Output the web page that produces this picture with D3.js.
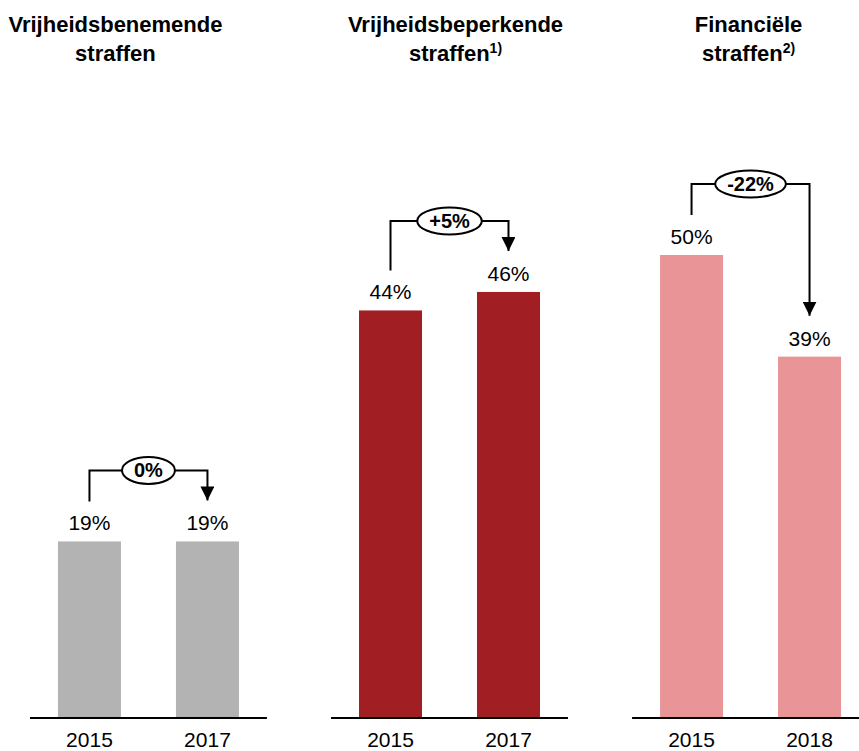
<!DOCTYPE html>
<html>
<head>
<meta charset="utf-8">
<script src="https://cdn.jsdelivr.net/npm/d3@7"></script>
<style>
  body { margin: 0; background: #fff; }
  svg { display: block; font-family: Arial, "Liberation Sans", sans-serif; }
</style>
</head>
<body>
<svg id="chart" width="859" height="751"></svg>
<script>
// data
const titleLine1 = ['Vrijheidsbenemende', 'Vrijheidsbeperkende', 'Financiële'];
const titleLine2 = ['straffen', 'straffen', 'straffen'];
const footnotes = ['', '1)', '2)'];
const years = [['2015', '2017'], ['2015', '2017'], ['2015', '2018']];
const values = [[19, 19], [44, 46], [50, 39]];
const changes = ['0%', '+5%', '-22%'];
const colors = ['#b3b3b3', '#a11f22', '#e99597'];

const baseY = 717;
const svg = d3.select('#chart');

// panels
const panelX = d3.scaleBand()
    .domain(d3.range(3))
    .range([30, 869])
    .paddingInner(0.213)
    .paddingOuter(0);

const barX = d3.scaleBand()
    .domain([0, 1])
    .range([0, panelX.bandwidth()])
    .paddingInner(0.466)
    .paddingOuter(0.237);

const y = d3.scaleLinear()
    .domain([0, 50])
    .range([baseY, baseY - 462]);

const titleShift = [-33, 6, -2];

svg.append('defs').append('marker')
    .attr('id', 'arrow')
    .attr('viewBox', '0 0 10 10')
    .attr('refX', 10)
    .attr('refY', 5)
    .attr('markerWidth', 7)
    .attr('markerHeight', 7)
    .attr('markerUnits', 'strokeWidth')
    .attr('orient', 'auto')
    .append('path')
    .attr('d', 'M0,0 L10,5 L0,10 Z')
    .attr('fill', '#000');

d3.range(3).forEach(i => {
    const g = svg.append('g').attr('transform', `translate(${panelX(i)},0)`);
    const pw = panelX.bandwidth();
    const cx = d => barX(d) + barX.bandwidth() / 2;

    // title
    const tx = pw / 2 + titleShift[i];
    const t = g.append('text')
        .attr('text-anchor', 'middle')
        .attr('font-size', 22)
        .attr('font-weight', 'bold')
        .attr('fill', '#000');
    t.append('tspan').attr('x', tx).attr('y', 32).text(titleLine1[i]);
    t.append('tspan').attr('x', tx).attr('y', 61).text(titleLine2[i]);
    if (footnotes[i]) {
        t.append('tspan').attr('dy', -8).attr('font-size', 14).text(footnotes[i]);
    }

    // bars
    g.selectAll('.bar')
        .data(values[i])
        .enter()
        .append('rect')
        .attr('class', 'bar')
        .attr('x', (d, j) => barX(j))
        .attr('y', d => y(d))
        .attr('width', barX.bandwidth())
        .attr('height', d => baseY - y(d))
        .attr('fill', colors[i]);

    // value labels
    g.selectAll('.val')
        .data(values[i])
        .enter()
        .append('text')
        .attr('class', 'val')
        .attr('x', (d, j) => cx(j))
        .attr('y', d => y(d) - 11)
        .attr('text-anchor', 'middle')
        .attr('font-size', 21)
        .attr('fill', '#000')
        .text(d => d + '%');

    // baseline
    g.append('line')
        .attr('x1', 0).attr('x2', pw)
        .attr('y1', baseY + 1).attr('y2', baseY + 1)
        .attr('stroke', '#000')
        .attr('stroke-width', 2);

    // year labels
    g.selectAll('.year')
        .data(years[i])
        .enter()
        .append('text')
        .attr('class', 'year')
        .attr('x', (d, j) => cx(j))
        .attr('y', 747)
        .attr('text-anchor', 'middle')
        .attr('font-size', 21)
        .attr('fill', '#000')
        .text(d => d);

    // change bracket
    const v0 = values[i][0], v1 = values[i][1];
    const topY = Math.min(y(v0), y(v1)) - 71;
    const x0 = cx(0), x1 = cx(1);
    g.append('path')
        .attr('d', `M${x0},${y(v0) - 40} V${topY} H${x1} V${y(v1) - 41}`)
        .attr('fill', 'none')
        .attr('stroke', '#000')
        .attr('stroke-width', 2)
        .attr('marker-end', 'url(#arrow)');

    const mid = (x0 + x1) / 2;
    const lab = g.append('text')
        .attr('x', mid)
        .attr('y', topY + 7)
        .attr('text-anchor', 'middle')
        .attr('font-size', 20)
        .attr('font-weight', 'bold')
        .attr('fill', '#000')
        .text(changes[i]);
    const bw = lab.node().getComputedTextLength();
    g.insert('ellipse', 'text:last-child')
        .attr('cx', mid)
        .attr('cy', topY)
        .attr('rx', bw / 2 + 12)
        .attr('ry', 13.5)
        .attr('fill', '#fff')
        .attr('stroke', '#000')
        .attr('stroke-width', 2);
    lab.raise();
});
</script>
</body>
</html>
